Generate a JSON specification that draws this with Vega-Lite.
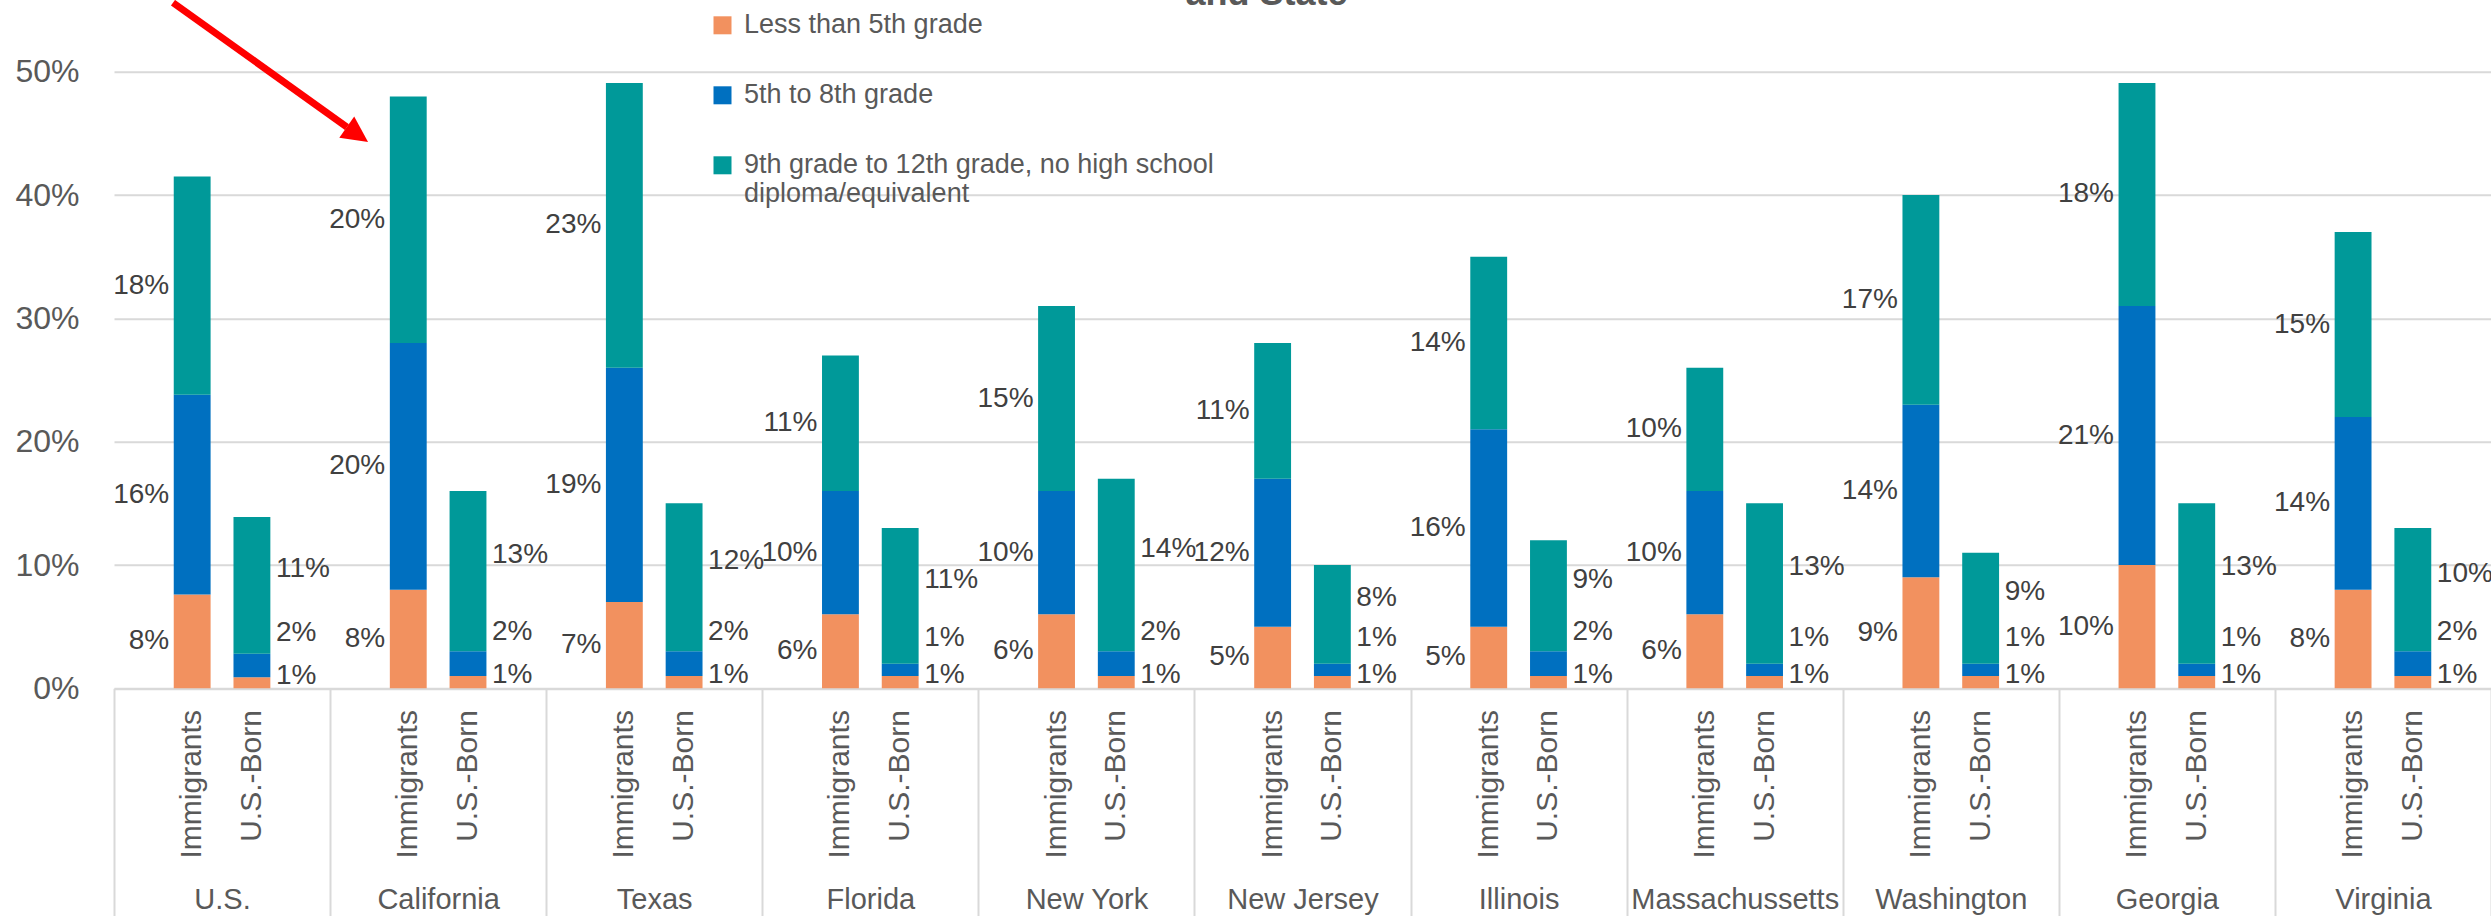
{
  "$schema": "https://vega.github.io/schema/vega-lite/v6.json",
  "width": 2377,
  "height": 616.5,
  "autosize": {"type": "none"},
  "padding": {"left": 114, "top": 71.8, "right": 0, "bottom": 227.7},
  "background": "white",
  "config": {"font": "Liberation Sans", "view": {"stroke": null}},
  "title": {"text": "and State", "fontSize": 36, "fontWeight": "bold", "color": "#595959", "anchor": "middle", "frame": "group", "dx": -36, "dy": 42, "offset": 0, "baseline": "alphabetic"},
  "datasets": {
    "edu": [
      {"state": "U.S.", "group": "Immigrants", "category": "Less than 5th grade", "value": 0.076},
      {"state": "U.S.", "group": "Immigrants", "category": "5th to 8th grade", "value": 0.162},
      {"state": "U.S.", "group": "Immigrants", "category": "9th grade to 12th grade, no high school diploma/equivalent", "value": 0.177},
      {"state": "U.S.", "group": "U.S.-Born", "category": "Less than 5th grade", "value": 0.009},
      {"state": "U.S.", "group": "U.S.-Born", "category": "5th to 8th grade", "value": 0.019},
      {"state": "U.S.", "group": "U.S.-Born", "category": "9th grade to 12th grade, no high school diploma/equivalent", "value": 0.111},
      {"state": "California", "group": "Immigrants", "category": "Less than 5th grade", "value": 0.080},
      {"state": "California", "group": "Immigrants", "category": "5th to 8th grade", "value": 0.200},
      {"state": "California", "group": "Immigrants", "category": "9th grade to 12th grade, no high school diploma/equivalent", "value": 0.200},
      {"state": "California", "group": "U.S.-Born", "category": "Less than 5th grade", "value": 0.010},
      {"state": "California", "group": "U.S.-Born", "category": "5th to 8th grade", "value": 0.020},
      {"state": "California", "group": "U.S.-Born", "category": "9th grade to 12th grade, no high school diploma/equivalent", "value": 0.130},
      {"state": "Texas", "group": "Immigrants", "category": "Less than 5th grade", "value": 0.070},
      {"state": "Texas", "group": "Immigrants", "category": "5th to 8th grade", "value": 0.190},
      {"state": "Texas", "group": "Immigrants", "category": "9th grade to 12th grade, no high school diploma/equivalent", "value": 0.231},
      {"state": "Texas", "group": "U.S.-Born", "category": "Less than 5th grade", "value": 0.010},
      {"state": "Texas", "group": "U.S.-Born", "category": "5th to 8th grade", "value": 0.020},
      {"state": "Texas", "group": "U.S.-Born", "category": "9th grade to 12th grade, no high school diploma/equivalent", "value": 0.120},
      {"state": "Florida", "group": "Immigrants", "category": "Less than 5th grade", "value": 0.060},
      {"state": "Florida", "group": "Immigrants", "category": "5th to 8th grade", "value": 0.100},
      {"state": "Florida", "group": "Immigrants", "category": "9th grade to 12th grade, no high school diploma/equivalent", "value": 0.110},
      {"state": "Florida", "group": "U.S.-Born", "category": "Less than 5th grade", "value": 0.010},
      {"state": "Florida", "group": "U.S.-Born", "category": "5th to 8th grade", "value": 0.010},
      {"state": "Florida", "group": "U.S.-Born", "category": "9th grade to 12th grade, no high school diploma/equivalent", "value": 0.110},
      {"state": "New York", "group": "Immigrants", "category": "Less than 5th grade", "value": 0.060},
      {"state": "New York", "group": "Immigrants", "category": "5th to 8th grade", "value": 0.100},
      {"state": "New York", "group": "Immigrants", "category": "9th grade to 12th grade, no high school diploma/equivalent", "value": 0.150},
      {"state": "New York", "group": "U.S.-Born", "category": "Less than 5th grade", "value": 0.010},
      {"state": "New York", "group": "U.S.-Born", "category": "5th to 8th grade", "value": 0.020},
      {"state": "New York", "group": "U.S.-Born", "category": "9th grade to 12th grade, no high school diploma/equivalent", "value": 0.140},
      {"state": "New Jersey", "group": "Immigrants", "category": "Less than 5th grade", "value": 0.050},
      {"state": "New Jersey", "group": "Immigrants", "category": "5th to 8th grade", "value": 0.120},
      {"state": "New Jersey", "group": "Immigrants", "category": "9th grade to 12th grade, no high school diploma/equivalent", "value": 0.110},
      {"state": "New Jersey", "group": "U.S.-Born", "category": "Less than 5th grade", "value": 0.010},
      {"state": "New Jersey", "group": "U.S.-Born", "category": "5th to 8th grade", "value": 0.010},
      {"state": "New Jersey", "group": "U.S.-Born", "category": "9th grade to 12th grade, no high school diploma/equivalent", "value": 0.080},
      {"state": "Illinois", "group": "Immigrants", "category": "Less than 5th grade", "value": 0.050},
      {"state": "Illinois", "group": "Immigrants", "category": "5th to 8th grade", "value": 0.160},
      {"state": "Illinois", "group": "Immigrants", "category": "9th grade to 12th grade, no high school diploma/equivalent", "value": 0.140},
      {"state": "Illinois", "group": "U.S.-Born", "category": "Less than 5th grade", "value": 0.010},
      {"state": "Illinois", "group": "U.S.-Born", "category": "5th to 8th grade", "value": 0.020},
      {"state": "Illinois", "group": "U.S.-Born", "category": "9th grade to 12th grade, no high school diploma/equivalent", "value": 0.090},
      {"state": "Massachussetts", "group": "Immigrants", "category": "Less than 5th grade", "value": 0.060},
      {"state": "Massachussetts", "group": "Immigrants", "category": "5th to 8th grade", "value": 0.100},
      {"state": "Massachussetts", "group": "Immigrants", "category": "9th grade to 12th grade, no high school diploma/equivalent", "value": 0.100},
      {"state": "Massachussetts", "group": "U.S.-Born", "category": "Less than 5th grade", "value": 0.010},
      {"state": "Massachussetts", "group": "U.S.-Born", "category": "5th to 8th grade", "value": 0.010},
      {"state": "Massachussetts", "group": "U.S.-Born", "category": "9th grade to 12th grade, no high school diploma/equivalent", "value": 0.130},
      {"state": "Washington", "group": "Immigrants", "category": "Less than 5th grade", "value": 0.090},
      {"state": "Washington", "group": "Immigrants", "category": "5th to 8th grade", "value": 0.140},
      {"state": "Washington", "group": "Immigrants", "category": "9th grade to 12th grade, no high school diploma/equivalent", "value": 0.170},
      {"state": "Washington", "group": "U.S.-Born", "category": "Less than 5th grade", "value": 0.010},
      {"state": "Washington", "group": "U.S.-Born", "category": "5th to 8th grade", "value": 0.010},
      {"state": "Washington", "group": "U.S.-Born", "category": "9th grade to 12th grade, no high school diploma/equivalent", "value": 0.090},
      {"state": "Georgia", "group": "Immigrants", "category": "Less than 5th grade", "value": 0.100},
      {"state": "Georgia", "group": "Immigrants", "category": "5th to 8th grade", "value": 0.210},
      {"state": "Georgia", "group": "Immigrants", "category": "9th grade to 12th grade, no high school diploma/equivalent", "value": 0.181},
      {"state": "Georgia", "group": "U.S.-Born", "category": "Less than 5th grade", "value": 0.010},
      {"state": "Georgia", "group": "U.S.-Born", "category": "5th to 8th grade", "value": 0.010},
      {"state": "Georgia", "group": "U.S.-Born", "category": "9th grade to 12th grade, no high school diploma/equivalent", "value": 0.130},
      {"state": "Virginia", "group": "Immigrants", "category": "Less than 5th grade", "value": 0.080},
      {"state": "Virginia", "group": "Immigrants", "category": "5th to 8th grade", "value": 0.140},
      {"state": "Virginia", "group": "Immigrants", "category": "9th grade to 12th grade, no high school diploma/equivalent", "value": 0.150},
      {"state": "Virginia", "group": "U.S.-Born", "category": "Less than 5th grade", "value": 0.010},
      {"state": "Virginia", "group": "U.S.-Born", "category": "5th to 8th grade", "value": 0.020},
      {"state": "Virginia", "group": "U.S.-Born", "category": "9th grade to 12th grade, no high school diploma/equivalent", "value": 0.100}
    ],
    "arrow": [
      {"from_slot": 0.273, "from_pct": 0.556, "to_slot": 1.078, "to_pct": 0.4552, "head_slot": 1.1264, "head_pct": 0.4491}
    ]
  },
  "layer": [
    {
      "data": {"name": "edu"},
      "transform": [
        {"calculate": "indexof(['Less than 5th grade', '5th to 8th grade', '9th grade to 12th grade, no high school diploma/equivalent'], datum.category)", "as": "k"},
        {"stack": "value", "groupby": ["state", "group"], "sort": [{"field": "k", "order": "ascending"}], "as": ["v0", "v1"]},
        {"calculate": "(datum.v0 + datum.v1) / 2", "as": "mid"}
      ],
      "encoding": {
        "x": {
          "field": "state", "type": "nominal",
          "sort": ["U.S.", "California", "Texas", "Florida", "New York", "New Jersey", "Illinois", "Massachussetts", "Washington", "Georgia", "Virginia"],
          "scale": {"paddingInner": 0, "paddingOuter": 0},
          "axis": {"title": null, "tickBand": "extent", "ticks": true, "tickSize": 228, "tickColor": "#D9D9D9", "tickWidth": 2, "domain": true, "domainColor": "#D9D9D9", "domainWidth": 2, "labelAngle": 0, "labelFontSize": 29, "labelColor": "#595959", "labelPadding": -17, "labelBaseline": "middle", "labelLimit": 400, "grid": false}
        },
        "xOffset": {
          "field": "group", "type": "nominal",
          "sort": ["Immigrants", "U.S.-Born"],
          "scale": {"paddingInner": 0.383, "paddingOuter": 1.19}
        }
      },
      "layer": [
        {
          "mark": {"type": "bar"},
          "encoding": {
            "y": {"field": "v1", "type": "quantitative", "scale": {"domain": [0, 0.5], "nice": false},
                  "axis": {"values": [0, 0.1, 0.2, 0.3, 0.4, 0.5], "format": ".0%", "grid": true, "gridColor": "#D9D9D9", "gridWidth": 2, "ticks": false, "domain": false, "labelFontSize": 32, "labelColor": "#595959", "labelPadding": 35, "title": null}},
            "y2": {"field": "v0"},
            "color": {
              "field": "category", "type": "nominal",
              "sort": ["Less than 5th grade", "5th to 8th grade", "9th grade to 12th grade, no high school diploma/equivalent"],
              "scale": {"domain": ["Less than 5th grade", "5th to 8th grade", "9th grade to 12th grade, no high school diploma/equivalent"], "range": ["#F2915F", "#0070C0", "#009999"]},
              "legend": {"orient": "none", "legendX": 595, "legendY": -60, "title": null, "symbolType": "square", "symbolSize": 324, "symbolStrokeWidth": 0, "labelFontSize": 27, "labelColor": "#595959", "rowPadding": 42, "labelOffset": 8, "padding": 0, "labelLimit": 1000,
                         "labelExpr": "datum.label == '9th grade to 12th grade, no high school diploma/equivalent' ? ['9th grade to 12th grade, no high school', 'diploma/equivalent'] : datum.label"}
            }
          }
        },
        {
          "transform": [{"filter": "datum.group === 'Immigrants'"}],
          "mark": {"type": "text", "align": "right", "baseline": "middle", "dx": -23, "fontSize": 28, "color": "#404040"},
          "encoding": {
            "y": {"field": "mid", "type": "quantitative", "scale": {"domain": [0, 0.5], "nice": false},
                  "axis": {"values": [0, 0.1, 0.2, 0.3, 0.4, 0.5], "format": ".0%", "grid": true, "gridColor": "#D9D9D9", "gridWidth": 2, "ticks": false, "domain": false, "labelFontSize": 32, "labelColor": "#595959", "labelPadding": 35, "title": null}},
            "text": {"field": "value", "type": "quantitative", "format": ".0%"}
          }
        },
        {
          "transform": [{"filter": "datum.group === 'U.S.-Born' && datum.category === 'Less than 5th grade'"}],
          "mark": {"type": "text", "align": "left", "baseline": "middle", "dx": 24, "dy": -7, "fontSize": 28, "color": "#404040"},
          "encoding": {
            "y": {"field": "mid", "type": "quantitative", "scale": {"domain": [0, 0.5], "nice": false},
                  "axis": {"values": [0, 0.1, 0.2, 0.3, 0.4, 0.5], "format": ".0%", "grid": true, "gridColor": "#D9D9D9", "gridWidth": 2, "ticks": false, "domain": false, "labelFontSize": 32, "labelColor": "#595959", "labelPadding": 35, "title": null}},
            "text": {"field": "value", "type": "quantitative", "format": ".0%"}
          }
        },
        {
          "transform": [{"filter": "datum.group === 'U.S.-Born' && datum.category === '5th to 8th grade'"}],
          "mark": {"type": "text", "align": "left", "baseline": "middle", "dx": 24, "dy": -32, "fontSize": 28, "color": "#404040"},
          "encoding": {
            "y": {"field": "mid", "type": "quantitative", "scale": {"domain": [0, 0.5], "nice": false},
                  "axis": {"values": [0, 0.1, 0.2, 0.3, 0.4, 0.5], "format": ".0%", "grid": true, "gridColor": "#D9D9D9", "gridWidth": 2, "ticks": false, "domain": false, "labelFontSize": 32, "labelColor": "#595959", "labelPadding": 35, "title": null}},
            "text": {"field": "value", "type": "quantitative", "format": ".0%"}
          }
        },
        {
          "transform": [{"filter": "datum.group === 'U.S.-Born' && datum.category === '9th grade to 12th grade, no high school diploma/equivalent'"}],
          "mark": {"type": "text", "align": "left", "baseline": "middle", "dx": 24, "dy": -16, "fontSize": 28, "color": "#404040"},
          "encoding": {
            "y": {"field": "mid", "type": "quantitative", "scale": {"domain": [0, 0.5], "nice": false},
                  "axis": {"values": [0, 0.1, 0.2, 0.3, 0.4, 0.5], "format": ".0%", "grid": true, "gridColor": "#D9D9D9", "gridWidth": 2, "ticks": false, "domain": false, "labelFontSize": 32, "labelColor": "#595959", "labelPadding": 35, "title": null}},
            "text": {"field": "value", "type": "quantitative", "format": ".0%"}
          }
        },
        {
          "transform": [{"filter": "datum.category === 'Less than 5th grade'"}],
          "mark": {"type": "text", "align": "right", "baseline": "middle", "angle": 270, "fontSize": 30, "color": "#595959"},
          "encoding": {
            "y": {"datum": -0.0177, "type": "quantitative", "scale": {"domain": [0, 0.5], "nice": false},
                  "axis": {"values": [0, 0.1, 0.2, 0.3, 0.4, 0.5], "format": ".0%", "grid": true, "gridColor": "#D9D9D9", "gridWidth": 2, "ticks": false, "domain": false, "labelFontSize": 32, "labelColor": "#595959", "labelPadding": 35, "title": null}},
            "text": {"field": "group", "type": "nominal"}
          }
        }
      ]
    },
    {
      "data": {"name": "arrow"},
      "layer": [
        {
          "mark": {"type": "rule", "color": "#FF0000", "strokeWidth": 7},
          "encoding": {
            "x": {"field": "from_slot", "type": "quantitative", "scale": {"domain": [0, 11], "nice": false, "zero": false}, "axis": null},
            "x2": {"field": "to_slot"},
            "y": {"field": "from_pct", "type": "quantitative", "scale": {"domain": [0, 0.5], "nice": false},
                  "axis": {"values": [0, 0.1, 0.2, 0.3, 0.4, 0.5], "format": ".0%", "grid": true, "gridColor": "#D9D9D9", "gridWidth": 2, "ticks": false, "domain": false, "labelFontSize": 32, "labelColor": "#595959", "labelPadding": 35, "title": null}},
            "y2": {"field": "to_pct"}
          }
        },
        {
          "mark": {"type": "point", "shape": "M-1,-1L1,0L-1,1Z", "filled": true, "color": "#FF0000", "opacity": 1, "size": 676, "angle": 35},
          "encoding": {
            "x": {"field": "head_slot", "type": "quantitative", "scale": {"domain": [0, 11], "nice": false, "zero": false}, "axis": null},
            "y": {"field": "head_pct", "type": "quantitative", "scale": {"domain": [0, 0.5], "nice": false},
                  "axis": {"values": [0, 0.1, 0.2, 0.3, 0.4, 0.5], "format": ".0%", "grid": true, "gridColor": "#D9D9D9", "gridWidth": 2, "ticks": false, "domain": false, "labelFontSize": 32, "labelColor": "#595959", "labelPadding": 35, "title": null}}
          }
        }
      ]
    }
  ],
  "resolve": {"scale": {"x": "independent"}}
}
